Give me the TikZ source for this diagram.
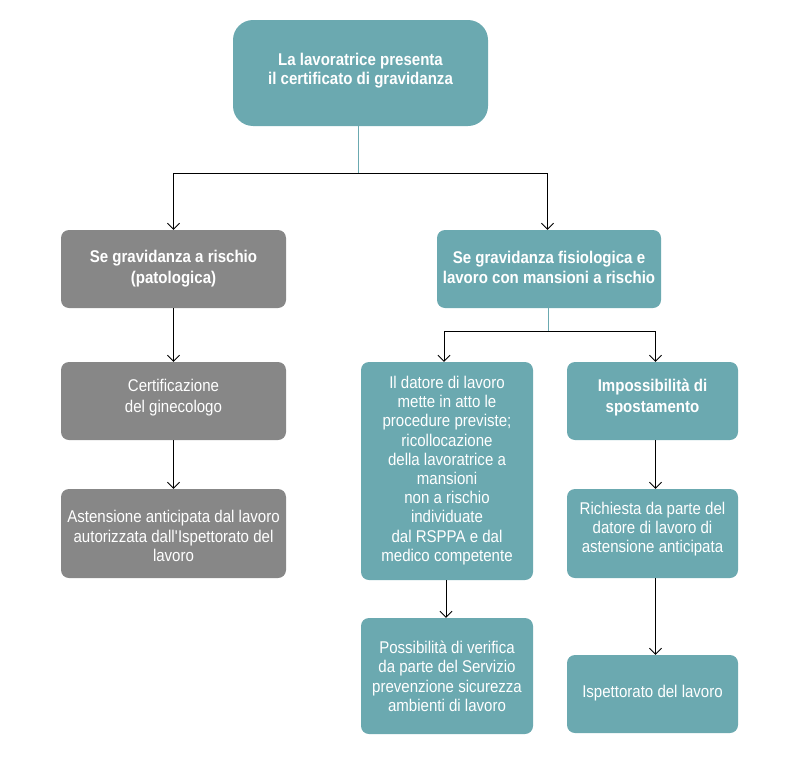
\documentclass[tikz,border=0pt]{standalone}
\usepackage{fontspec}
\setmainfont{Liberation Sans}[FakeStretch=0.885]
\usetikzlibrary{arrows.meta}
\definecolor{teal1}{HTML}{6BA9B0}
\definecolor{gray1}{HTML}{878787}
\begin{document}
\begin{tikzpicture}[x=1pt,y=-1pt,
  box/.style={rounded corners=8pt, draw=none, inner sep=0pt},
  tbox/.style={box, fill=teal1},
  gbox/.style={box, fill=gray1},
  txt/.style={text=white, align=center, inner sep=0pt, font=\fontsize{17}{19.4}\selectfont},
  btxt/.style={txt, font=\bfseries\fontsize{17}{20.5}\selectfont},
  arr/.style={-{Straight Barb[length=6pt,width=12pt]}, line width=0.9pt, black},
  stem/.style={line width=0.9pt, teal1}]
\useasboundingbox (0,0) rectangle (793,763);
% boxes
\node[tbox, rounded corners=20pt, minimum width=255pt, minimum height=106pt] (top) at (360.5,73) {};
\node[gbox, minimum width=225pt, minimum height=78pt] (L1) at (173.5,269) {};
\node[tbox, minimum width=224pt, minimum height=78pt] (R1) at (549,269) {};
\node[gbox, minimum width=225pt, minimum height=78pt] (L2) at (173.5,401) {};
\node[gbox, minimum width=225pt, minimum height=89pt] (L3) at (173.5,533.5) {};
\node[tbox, minimum width=172pt, minimum height=218pt] (M1) at (447,471) {};
\node[tbox, minimum width=172pt, minimum height=116pt] (M2) at (447,676) {};
\node[tbox, minimum width=171pt, minimum height=78pt] (R2) at (652.5,401) {};
\node[tbox, minimum width=171pt, minimum height=89pt] (R3) at (652.5,533.5) {};
\node[tbox, minimum width=171pt, minimum height=78pt] (R4) at (652.5,694) {};
% texts
\node[btxt, font=\bfseries\fontsize{17}{19}\selectfont] (topT) at (360.5,70.5) {La lavoratrice presenta\\il certificato di gravidanza};
\node[btxt] (L1T) at (173.5,268.5) {Se gravidanza a rischio\\(patologica)};
\node[btxt, font=\bfseries\fontsize{17}{19.5}\selectfont] (R1T) at (549,267.5) {Se gravidanza fisiologica e\\lavoro con mansioni a rischio};
\node[txt, font=\fontsize{17}{20.5}\selectfont] (L2T) at (173.5,397.5) {Certificazione\\del ginecologo};
\node[txt] (L3T) at (173.5,536) {Astensione anticipata dal lavoro\\autorizzata dall\textquotesingle Ispettorato del\\lavoro};
\node[txt, font=\fontsize{17}{19.2}\selectfont] (M1T) at (447,470.5) {Il datore di lavoro\\mette in atto le\\procedure previste;\\ricollocazione\\della lavoratrice a\\mansioni\\non a rischio\\individuate\\dal RSPPA e dal\\medico competente};
\node[txt] (M2T) at (447,676.5) {Possibilità di verifica\\da parte del Servizio\\prevenzione sicurezza\\ambienti di lavoro};
\node[btxt] (R2T) at (652.5,397.5) {Impossibilità di\\spostamento};
\node[txt] (R3T) at (652.5,529) {Richiesta da parte del\\datore di lavoro di\\astensione anticipata};
\node[txt] (R4T) at (652.5,693) {Ispettorato del lavoro};
% connectors
\coordinate (j1) at (358,173);
\coordinate (j2) at (548.5,331.5);
\draw[stem] (top.south -| j1) -- (j1);
\draw[arr] (j1) -| (L1.north -| 173.5,0);
\draw[arr] (j1) -| (R1.north -| 547.5,0);
\draw[stem] (R1.south -| j2) -- (j2);
\draw[arr] (j2) -| (M1.north -| 444,0);
\draw[arr] (j2) -| (R2.north -| 655.5,0);
\draw[arr] (L1.south -| 173.5,0) -- (L2.north -| 173.5,0);
\draw[arr] (L2.south -| 173.5,0) -- (L3.north -| 173.5,0);
\draw[arr] (M1.south -| 446,0) -- (M2.north -| 446,0);
\draw[arr] (R2.south -| 655.5,0) -- (R3.north -| 655.5,0);
\draw[arr] (R3.south -| 655.5,0) -- (R4.north -| 655.5,0);
\end{tikzpicture}
\end{document}
